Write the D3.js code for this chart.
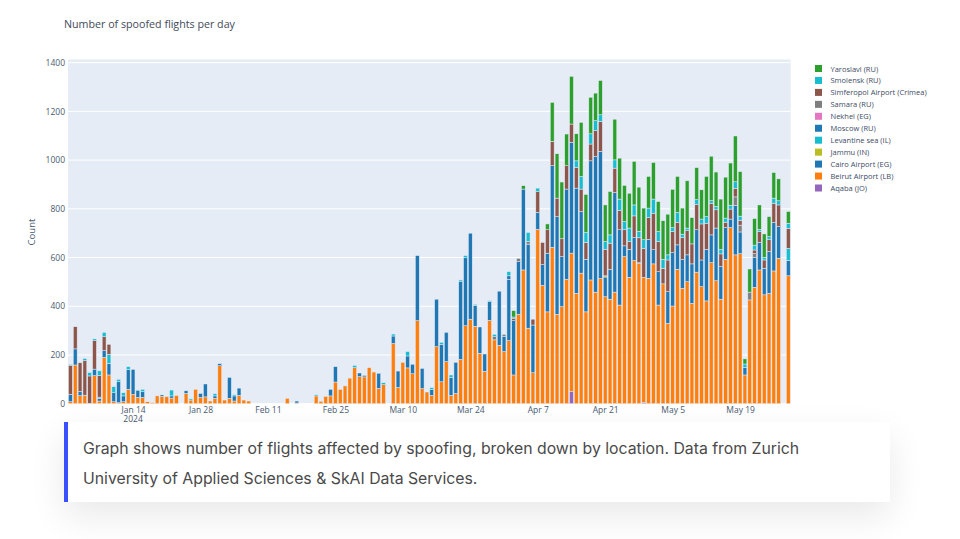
<!DOCTYPE html>
<html lang="en">
  <head>
    <meta charset="utf-8" />
    <title>Number of spoofed flights per day</title>
    <script src="https://cdnjs.cloudflare.com/ajax/libs/d3/7.0.0/d3.min.js"></script>
    <style>
      body {
        margin: 0;
        background-color: #ffffff;
        width: 960px;
        height: 539px;
        overflow: hidden;
        position: relative;
      }

      svg {
        position: absolute;
        left: 0;
        top: 0;
      }

      .chart-title {
        font-family: "Open Sans", sans-serif;
        font-size: 10.7px;
        fill: #3f4a5a;
      }

      .tick text,
      .y-label {
        font-family: "Open Sans", sans-serif;
        font-size: 8.5px;
        fill: #4a5a72;
      }

      .legend-label {
        font-family: "Open Sans", sans-serif;
        font-size: 7.5px;
        fill: #3c4c66;
      }

      .caption {
        position: absolute;
        left: 64px;
        top: 422px;
        width: 826px;
        height: 80px;
        box-sizing: border-box;
        background-color: #ffffff;
        border-left: 4px solid #3a50ff;
        box-shadow: 0 14px 36px rgba(0, 0, 0, 0.09);
        padding: 12px 60px 0 15px;
        font-family: "Inter", sans-serif;
        font-size: 15.8px;
        line-height: 29.5px;
        color: #4a4a4a;
      }
    </style>
  </head>

  <body>
    <script>
      // Daily counts, one row per month: Jan 1 to May 29 2024
      const startDay = Date.UTC(2024, 0, 1);
      const dayCount = 150;

      const aqaba = [
        0,0,0,0,0,0,0,0,0,0,0,0,0,0,0,0,0,0,0,0,0,0,0,0,0,0,0,0,0,0,0,
        0,0,0,0,0,0,0,0,0,0,0,0,0,0,0,0,0,0,0,0,0,0,0,0,0,0,0,0,0,
        0,0,0,0,0,0,0,0,0,0,0,0,0,0,0,0,0,0,0,0,0,0,0,0,0,0,0,0,0,0,0,
        0,0,0,0,0,0,0,0,0,0,0,0,0,49,0,0,0,0,0,0,0,0,0,0,0,0,0,0,5,0,
        0,0,0,0,0,0,0,0,0,0,0,0,0,0,0,0,0,0,0,0,0,0,0,0,0,0,0,0,0,
      ];
      const beirut = [
        8,159,33,35,2,115,11,190,118,8,4,8,59,38,26,26,8,4,32,30,29,23,34,0,42,15,59,26,28,11,22,
        156,15,22,11,34,15,11,0,0,0,0,0,0,0,22,0,3,0,0,0,32,10,30,32,89,59,73,105,148,
        111,110,148,130,63,78,0,247,67,170,147,123,341,62,48,34,234,90,173,34,42,182,320,347,318,207,133,342,262,240,214,
        259,118,367,549,310,127,716,486,377,642,367,399,511,569,453,536,377,508,458,514,439,429,458,405,604,519,588,577,514,515,
        574,405,492,330,401,552,474,501,412,540,481,422,579,505,429,593,723,611,616,118,426,478,549,447,453,545,597,0,525,
      ];
      const cairo = [
        30,66,17,0,0,27,11,28,48,37,86,24,81,103,29,23,0,0,0,6,0,9,0,0,11,0,0,16,53,0,10,
        8,0,86,21,30,0,0,0,0,0,0,0,0,0,0,0,8,0,0,0,0,0,0,27,63,0,0,0,0,
        15,6,0,0,62,0,0,31,67,0,49,39,267,83,0,25,195,154,120,74,128,321,279,353,86,108,71,77,0,222,63,
        252,223,216,332,345,196,70,85,241,335,401,205,370,455,432,253,216,489,557,522,81,123,409,309,44,115,94,2,0,160,
        58,137,0,130,219,100,118,110,162,174,109,212,114,216,134,130,35,203,89,31,0,123,113,109,172,199,130,0,63,
      ];
      const jammu = [
        0,0,0,0,0,0,0,0,0,0,0,0,0,0,0,0,0,0,0,0,0,0,0,0,0,0,0,0,0,0,0,
        0,0,0,0,0,0,0,0,0,0,0,0,0,0,0,0,0,0,0,0,0,0,0,0,0,0,0,0,0,
        0,0,0,0,0,0,0,0,0,0,0,0,0,0,0,0,0,0,0,0,0,0,0,0,0,0,0,0,0,0,0,
        0,0,0,0,0,0,0,0,0,0,0,0,0,0,0,0,0,0,0,0,5,0,0,0,0,0,0,0,0,0,
        0,0,0,0,0,0,0,0,0,0,0,0,0,0,0,0,0,0,0,0,0,0,0,0,0,0,0,0,0,
      ];
      const levantine = [
        0,0,0,0,0,0,0,0,37,0,0,0,0,0,0,0,0,0,0,0,0,0,0,0,0,0,0,0,0,0,0,
        0,0,0,0,0,0,0,0,0,0,0,0,0,0,0,0,0,0,0,0,0,0,0,0,0,0,0,0,0,
        0,0,0,0,0,0,0,0,0,0,0,0,0,0,0,0,0,0,0,0,0,0,0,0,0,0,0,0,0,0,0,
        0,0,0,0,0,0,0,0,0,0,0,0,0,0,0,0,0,0,0,0,0,0,0,0,0,0,0,0,0,0,
        0,0,0,0,0,0,0,0,0,0,0,0,0,0,0,0,0,0,0,0,0,0,0,0,0,0,0,0,50,
      ];
      const moscow = [
        0,0,0,0,0,0,0,0,0,0,0,0,0,0,0,0,0,0,0,0,0,0,0,0,0,0,0,0,0,0,0,
        0,0,0,0,0,0,0,0,0,0,0,0,0,0,0,0,0,0,0,0,0,0,0,0,0,0,0,0,0,
        0,0,0,0,0,0,0,0,0,0,0,0,0,0,0,0,0,0,0,0,0,0,0,0,0,0,0,0,0,0,0,
        14,0,0,0,0,0,0,0,0,0,0,0,0,0,0,0,0,0,0,0,0,0,0,0,0,0,0,0,0,0,
        0,0,0,0,0,0,0,0,0,0,0,0,0,0,0,0,0,0,0,0,0,0,0,0,0,0,0,0,0,
      ];
      const nekhel = [
        0,0,0,0,0,0,0,0,0,0,0,0,0,0,0,0,0,0,0,0,0,0,0,0,0,0,0,0,0,0,0,
        0,0,0,0,0,0,0,0,0,0,0,0,0,0,0,0,0,0,0,0,0,0,0,0,0,0,0,0,0,
        0,0,0,0,0,0,0,0,0,0,0,0,0,0,0,0,0,0,0,0,0,0,0,0,0,0,0,0,0,0,0,
        0,0,0,0,0,0,0,0,0,0,0,0,0,0,0,0,0,0,0,0,0,0,0,0,0,0,0,0,0,0,
        0,0,0,0,0,0,0,0,0,0,0,0,0,0,0,0,0,0,0,0,0,0,0,0,0,0,0,0,0,
      ];
      const samara = [
        0,0,0,0,0,0,5,0,0,0,0,0,0,0,0,0,0,0,0,0,0,0,0,0,0,0,0,0,0,0,0,
        0,0,0,0,0,0,0,0,0,0,0,0,0,0,0,0,0,0,0,0,0,0,0,0,0,0,0,0,0,
        0,0,0,0,0,0,0,0,0,0,0,0,0,0,0,0,0,0,0,0,0,0,0,0,0,0,0,0,13,0,8,
        0,0,14,0,11,0,0,0,0,0,0,0,0,0,0,0,0,0,0,0,0,0,0,0,0,0,0,0,0,0,
        0,0,0,0,0,0,0,0,0,0,0,0,0,0,0,0,0,35,28,0,32,15,0,0,0,0,0,0,0,
      ];
      const simferopol = [
        120,91,118,142,112,117,89,57,41,0,0,0,0,0,0,0,0,0,0,0,0,0,0,0,0,0,0,0,0,0,0,
        0,0,0,0,0,0,0,0,0,0,0,0,0,0,0,0,0,0,0,0,0,0,0,0,0,0,0,0,0,
        0,0,0,0,0,0,0,0,0,0,0,0,0,0,0,0,0,0,0,0,0,0,0,0,0,0,0,0,0,0,0,
        0,10,0,0,0,24,85,91,96,100,76,73,96,75,85,92,69,69,106,123,109,107,100,79,66,32,89,102,119,89,
        150,124,64,130,87,93,90,99,82,104,148,107,130,75,52,22,41,35,20,0,0,15,45,34,48,79,89,0,82,
      ];
      const smolensk = [
        3,0,0,9,14,7,19,18,0,25,10,13,12,0,0,10,0,0,0,0,0,24,0,0,0,5,0,0,0,0,9,
        0,0,0,5,0,0,0,0,0,0,0,0,0,0,0,0,0,0,0,0,5,0,0,0,0,0,0,0,9,
        0,0,0,0,0,8,0,8,0,0,18,0,0,0,0,7,0,8,0,10,0,5,9,0,4,0,0,4,10,0,0,
        17,5,0,0,37,0,14,0,0,0,0,0,0,0,27,52,41,42,41,27,32,34,34,47,34,55,45,27,35,39,
        58,41,37,21,16,40,14,11,0,20,20,27,11,14,19,17,16,27,17,14,0,20,9,11,13,21,17,0,21,
      ];
      const yaroslavl = [
        0,0,0,0,0,0,0,0,0,0,0,0,0,0,0,0,0,0,0,0,0,0,0,0,0,0,0,0,0,0,0,
        0,0,0,0,0,0,0,0,0,0,0,0,0,0,0,0,0,0,0,0,0,0,0,0,0,0,0,0,0,
        0,0,0,0,0,0,0,0,0,0,0,0,0,0,0,0,0,0,0,0,0,0,0,0,0,0,0,0,0,0,0,
        0,26,0,14,0,0,0,0,24,160,182,233,130,196,111,222,156,150,113,141,150,178,167,168,148,143,179,181,130,130,
        150,123,158,167,157,148,107,194,108,131,120,165,182,141,206,168,173,188,183,21,95,109,100,96,82,105,90,0,48,
      ];

      // Stacking order, bottom to top
      const locations = ["Aqaba (JO)", "Beirut Airport (LB)", "Cairo Airport (EG)", "Jammu (IN)", "Levantine sea (IL)", "Moscow (RU)", "Nekhel (EG)", "Samara (RU)", "Simferopol Airport (Crimea)", "Smolensk (RU)", "Yaroslavl (RU)"];
      const seriesValues = [aqaba, beirut, cairo, jammu, levantine, moscow, nekhel, samara, simferopol, smolensk, yaroslavl];
      const colors = ["#9467bd", "#ff7f0e", "#1f77b4", "#bcbd22", "#17becf", "#1f77b4", "#e377c2", "#7f7f7f", "#8c564b", "#17becf", "#2ca02c"];

      const yTicks = [0, 200, 400, 600, 800, 1000, 1200, 1400];
      const xTicks = [[0, 14], [0, 28], [1, 11], [1, 25], [2, 10], [2, 24], [3, 7], [3, 21], [4, 5], [4, 19]].map(
        ([m, d]) => new Date(Date.UTC(2024, m, d))
      );

      const dayMs = 24 * 60 * 60 * 1000;
      const days = d3.range(dayCount).map((i) => new Date(startDay + i * dayMs));
      const rows = days.map((day, i) => {
        const row = { day };
        locations.forEach((name, s) => (row[name] = seriesValues[s][i]));
        return row;
      });

      const plotLeft = 68, plotRight = 790.7, plotTop = 59.5, plotBottom = 403.7;

      const x = d3
        .scaleUtc()
        .domain([new Date(startDay - dayMs / 2), new Date(startDay + (dayCount - 0.5) * dayMs)])
        .range([plotLeft, plotRight]);
      const y = d3.scaleLinear().domain([0, 1413]).range([plotBottom, plotTop]);

      const svg = d3.select("body").append("svg").attr("width", 960).attr("height", 539);

      svg.append("text").attr("class", "chart-title").attr("x", 64).attr("y", 28).text("Number of spoofed flights per day");

      svg.append("rect").attr("x", plotLeft).attr("y", plotTop).attr("width", plotRight - plotLeft).attr("height", plotBottom - plotTop).attr("fill", "#e5ecf6");

      // Gridlines
      svg
        .selectAll(".grid")
        .data(yTicks)
        .enter()
        .append("line")
        .attr("class", "grid")
        .attr("x1", plotLeft)
        .attr("x2", plotRight)
        .attr("y1", (d) => y(d))
        .attr("y2", (d) => y(d))
        .attr("stroke", "#ffffff")
        .attr("stroke-width", 1);

      // Stacked bars
      const stacked = d3.stack().keys(locations)(rows);
      const barWidth = (x(days[1]) - x(days[0])) * 0.8;

      svg
        .selectAll(".layer")
        .data(stacked)
        .enter()
        .append("g")
        .attr("class", "layer")
        .attr("fill", (d, i) => colors[i])
        .selectAll("rect")
        .data((d) => d.filter((p) => p[1] > p[0]))
        .enter()
        .append("rect")
        .attr("x", (d) => x(d.data.day) - barWidth / 2)
        .attr("width", barWidth)
        .attr("y", (d) => y(d[1]))
        .attr("height", (d) => y(d[0]) - y(d[1]))
        .attr("stroke", "#e5ecf6")
        .attr("stroke-width", 0.5);

      // Axes
      const yAxis = d3.axisLeft(y).tickValues(yTicks).tickSize(0).tickPadding(3).tickFormat(d3.format("d"));
      svg.append("g").attr("transform", `translate(${plotLeft},0)`).call(yAxis).call((g) => g.select(".domain").remove());

      const xAxis = d3.axisBottom(x).tickValues(xTicks).tickSize(0).tickPadding(3).tickFormat(d3.utcFormat("%b %-d"));
      svg.append("g").attr("transform", `translate(0,${plotBottom})`).call(xAxis).call((g) => g.select(".domain").remove());

      svg.append("text").attr("class", "y-label").attr("x", x(xTicks[0])).attr("y", 422).attr("text-anchor", "middle").text("2024");

      svg
        .append("text")
        .attr("class", "y-label")
        .attr("transform", "translate(35,232) rotate(-90)")
        .attr("text-anchor", "middle")
        .style("font-size", "9.5px")
        .text("Count");

      // Legend lists the top of the stack first
      const legend = svg
        .selectAll(".legend")
        .data(locations.map((name, i) => ({ name, color: colors[i] })).reverse())
        .enter()
        .append("g")
        .attr("class", "legend")
        .attr("transform", (d, i) => `translate(815,${68.5 + i * 11.95})`);

      legend.append("rect").attr("x", 0).attr("y", -3.5).attr("width", 7).attr("height", 7).attr("fill", (d) => d.color);
      legend.append("text").attr("class", "legend-label").attr("x", 15.5).attr("y", 3).text((d) => d.name);

      // Caption box
      d3.select("body")
        .append("div")
        .attr("class", "caption")
        .text("Graph shows number of flights affected by spoofing, broken down by location. Data from Zurich University of Applied Sciences & SkAI Data Services.");
    </script>
  </body>
</html>
